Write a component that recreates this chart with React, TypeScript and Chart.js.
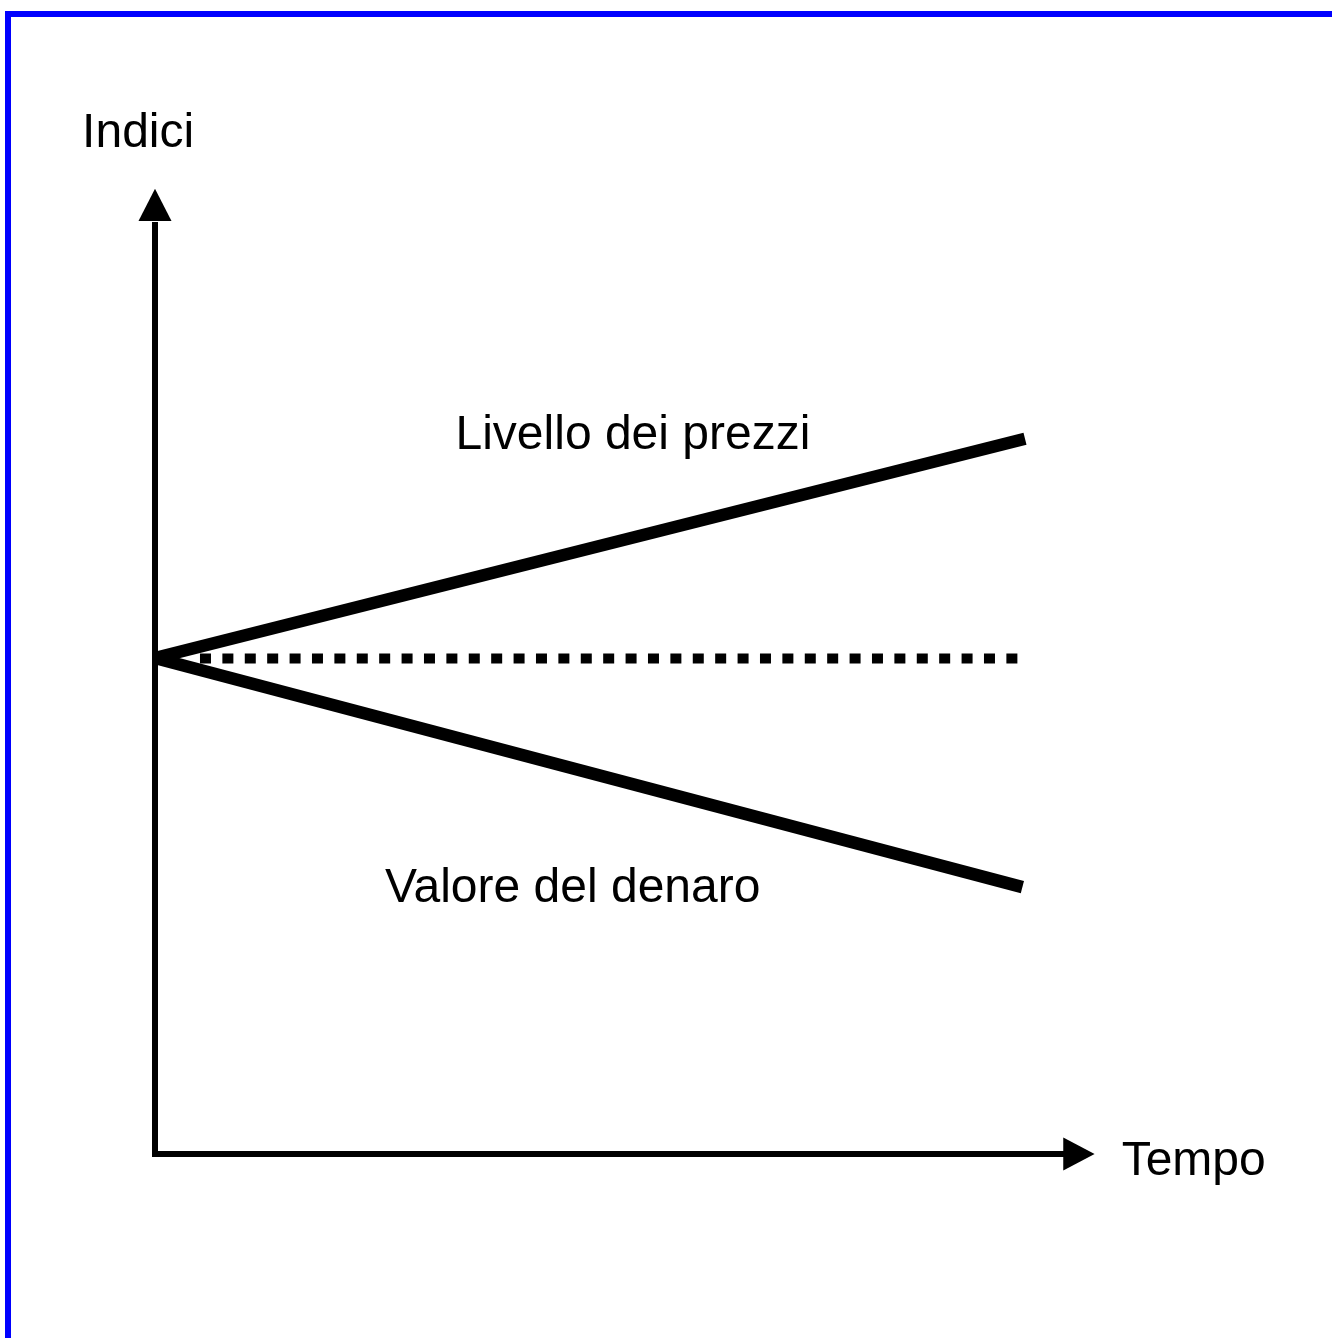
import React, { useEffect, useRef } from "react";
import { Chart, registerables } from "chart.js";

Chart.register(...registerables);

// Data (time units on x, index values on y; base index = 100)
const priceLevelX = [0, 10];
const priceLevelY = [100, 144.2];
const moneyValueX = [0, 9.97];
const moneyValueY = [100, 53.8];
const baseLineX = [0.517, 9.92];
const baseLineY = [99.9, 99.9];

// Axis geometry in data units
const axisOriginX = 0;
const axisOriginY = 0;
const yAxisArrowBase = 188.1;
const yAxisArrowTip = 194.6;
const xAxisArrowBase = 10.44;
const xAxisArrowTip = 10.8;

// Labels
const labelTexts = ["Indici", "Livello dei prezzi", "Valore del denaro", "Tempo"];
const labelX = [-0.838, 3.454, 2.644, 11.111];
const labelY = [203.0, 142.1, 50.9, -4.23];

const toPoints = (xs: number[], ys: number[]) => xs.map((x, i) => ({ x, y: ys[i] }));

const axesPlugin = {
  id: "axesArrows",
  afterDatasetsDraw(chart: any) {
    const { ctx } = chart;
    const xs = chart.scales.x;
    const ys = chart.scales.y;
    const px = (v: number) => xs.getPixelForValue(v);
    const py = (v: number) => ys.getPixelForValue(v);
    ctx.save();
    ctx.strokeStyle = "#000";
    ctx.fillStyle = "#000";
    ctx.lineWidth = 6;
    ctx.lineJoin = "miter";
    ctx.lineCap = "butt";
    ctx.beginPath();
    ctx.moveTo(px(axisOriginX), py(yAxisArrowBase) + 1);
    ctx.lineTo(px(axisOriginX), py(axisOriginY));
    ctx.lineTo(px(xAxisArrowBase) + 1, py(axisOriginY));
    ctx.stroke();
    // y arrow
    const cx = px(axisOriginX);
    ctx.beginPath();
    ctx.moveTo(cx, py(yAxisArrowTip));
    ctx.lineTo(cx + 16.5, py(yAxisArrowBase));
    ctx.lineTo(cx - 16.5, py(yAxisArrowBase));
    ctx.closePath();
    ctx.fill();
    // x arrow
    const cy = py(axisOriginY);
    ctx.beginPath();
    ctx.moveTo(px(xAxisArrowTip), cy);
    ctx.lineTo(px(xAxisArrowBase), cy - 16.5);
    ctx.lineTo(px(xAxisArrowBase), cy + 16.5);
    ctx.closePath();
    ctx.fill();
    // labels
    ctx.font = '48px "Liberation Sans", Arial, sans-serif';
    ctx.textAlign = "left";
    ctx.textBaseline = "alphabetic";
    labelTexts.forEach((t, i) => {
      ctx.fillText(t, px(labelX[i]), py(labelY[i]));
    });
    ctx.restore();
  },
};

export default function App() {
  const ref = useRef<HTMLCanvasElement | null>(null);
  useEffect(() => {
    if (!ref.current) return;
    const chart = new Chart(ref.current, {
      type: "scatter",
      data: {
        datasets: [
          {
            label: "Base",
            data: toPoints(baseLineX, baseLineY),
            showLine: true,
            borderColor: "#000",
            borderWidth: 10,
            borderDash: [11, 11.4],
            borderCapStyle: "butt",
            pointRadius: 0,
            clip: false as any,
          },
          {
            label: "Livello dei prezzi",
            data: toPoints(priceLevelX, priceLevelY),
            showLine: true,
            borderColor: "#000",
            borderWidth: 12.5,
            borderCapStyle: "butt",
            pointRadius: 0,
            clip: false as any,
          },
          {
            label: "Valore del denaro",
            data: toPoints(moneyValueX, moneyValueY),
            showLine: true,
            borderColor: "#000",
            borderWidth: 12.5,
            borderCapStyle: "butt",
            pointRadius: 0,
            clip: false as any,
          },
        ],
      },
      options: {
        animation: false,
        responsive: false,
        devicePixelRatio: 1,
        layout: { padding: { left: 155, right: 307, top: 162, bottom: 184 } },
        plugins: { legend: { display: false }, tooltip: { enabled: false } },
        scales: {
          x: { type: "linear", min: 0, max: 10, display: false },
          y: { type: "linear", min: 0, max: 200, display: false },
        },
      },
      plugins: [axesPlugin],
    });
    return () => chart.destroy();
  }, []);
  return (
    <div style={{ position: "fixed", left: 0, top: 0, width: 1332, height: 1338, background: "#fff", overflow: "hidden" }}>
      <div
        style={{
          position: "absolute",
          left: 5,
          top: 11,
          width: 1400,
          height: 1400,
          borderLeft: "6px solid #0000ff",
          borderTop: "6px solid #0000ff",
          boxSizing: "border-box",
        }}
      />
      <canvas ref={ref} width={1332} height={1338} style={{ position: "absolute", left: 0, top: 0, width: 1332, height: 1338 }} />
    </div>
  );
}
